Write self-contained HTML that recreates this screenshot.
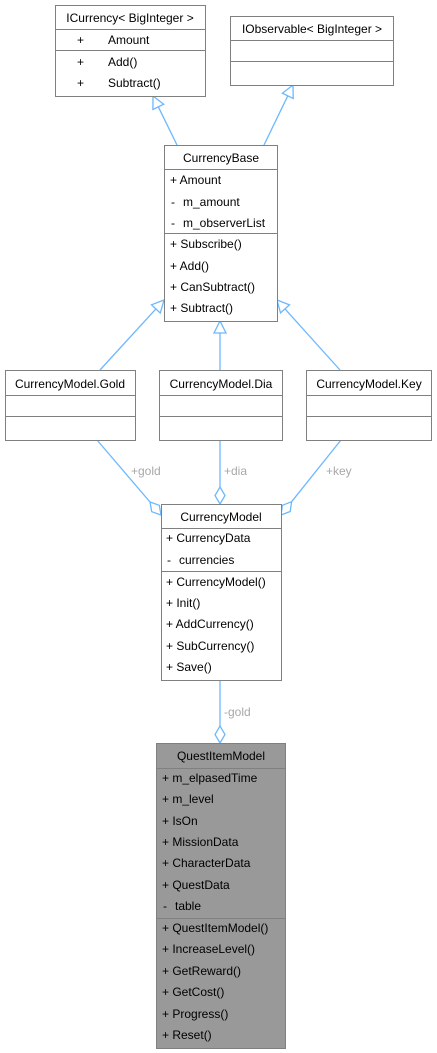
<!DOCTYPE html>
<html><head><meta charset="utf-8"><style>
html,body{margin:0;padding:0;background:#fff;}
svg{display:block;}
text{font-family:"Liberation Sans","DejaVu Sans",sans-serif;font-size:12px;fill:#000;}
.lbl{fill:#a8a8a8;}
</style></head><body>
<svg width="437" height="1053" viewBox="0 0 437 1053" xmlns="http://www.w3.org/2000/svg">
<g stroke="#6cb8ff" stroke-width="1.3" fill="none">
<line x1="177" y1="145" x2="158.3" y2="106.8"/>
<polygon points="153,96 163.7,104.2 152.9,109.4" fill="#fff"/>
<line x1="264" y1="145" x2="287.8" y2="95.8"/>
<polygon points="293,85 293.2,98.4 282.4,93.2" fill="#fff"/>
<line x1="100" y1="370" x2="155.9" y2="308.9"/>
<polygon points="164,300 160.3,313 151.5,304.8" fill="#fff"/>
<line x1="220" y1="370" x2="220" y2="333"/>
<polygon points="220,321 214,333 226,333" fill="#fff"/>
<line x1="340" y1="370" x2="285" y2="308.9"/>
<polygon points="277,300 289.5,304.9 280.5,312.9" fill="#fff"/>
<line x1="97" y1="440" x2="150" y2="502"/>
<polygon points="161,515 159.3,505.3 150,502 151.7,511.7" fill="#fff"/>
<line x1="220" y1="440" x2="220" y2="487"/>
<polygon points="220,504 225,495.5 220,487 215,495.5" fill="#fff"/>
<line x1="341" y1="440" x2="291.6" y2="501.7"/>
<polygon points="281,515 290.2,511.5 291.6,501.7 282.4,505.3" fill="#fff"/>
<line x1="220" y1="680" x2="220" y2="726"/>
<polygon points="220,743 225,734.5 220,726 215,734.5" fill="#fff"/>
</g>
<text class="lbl" x="131" y="475">+gold</text>
<text class="lbl" x="224" y="475">+dia</text>
<text class="lbl" x="326" y="475">+key</text>
<text class="lbl" x="224" y="716">-gold</text>

<g stroke="#808080" stroke-width="1" fill="#fff">
<rect x="55.5" y="5.5" width="150" height="91"/>
<line x1="55" y1="29.5" x2="206" y2="29.5"/><line x1="55" y1="50.5" x2="206" y2="50.5"/>
<rect x="230.5" y="16.5" width="163" height="69"/>
<line x1="230" y1="40.5" x2="394" y2="40.5"/><line x1="230" y1="61.5" x2="394" y2="61.5"/>
<rect x="164.5" y="145.5" width="113" height="176"/>
<line x1="164" y1="169.5" x2="278" y2="169.5"/><line x1="164" y1="233.5" x2="278" y2="233.5"/>
<rect x="5.5" y="370.5" width="130" height="70"/>
<line x1="5" y1="395.5" x2="136" y2="395.5"/><line x1="5" y1="416.5" x2="136" y2="416.5"/>
<rect x="159.5" y="370.5" width="123" height="70"/>
<line x1="159" y1="395.5" x2="283" y2="395.5"/><line x1="159" y1="416.5" x2="283" y2="416.5"/>
<rect x="306.5" y="370.5" width="125" height="70"/>
<line x1="306" y1="395.5" x2="432" y2="395.5"/><line x1="306" y1="416.5" x2="432" y2="416.5"/>
<rect x="161.5" y="504.5" width="120" height="176"/>
<line x1="161" y1="528.5" x2="282" y2="528.5"/><line x1="161" y1="571.5" x2="282" y2="571.5"/>
<rect x="156.5" y="743.5" width="129" height="305" fill="#999999"/>
<line x1="156" y1="768.5" x2="286" y2="768.5"/><line x1="156" y1="918.5" x2="286" y2="918.5"/>
</g>

<text x="130" y="22" text-anchor="middle">ICurrency&lt; BigInteger &gt;</text>
<text x="77" y="44">+</text><text x="108" y="44">Amount</text>
<text x="77" y="66">+</text><text x="108" y="66">Add()</text>
<text x="77" y="87">+</text><text x="108" y="87">Subtract()</text>

<text x="312" y="33" text-anchor="middle">IObservable&lt; BigInteger &gt;</text>

<text x="221" y="162" text-anchor="middle">CurrencyBase</text>
<text x="170" y="184">+ Amount</text>
<text x="171" y="206">-</text><text x="183" y="206">m_amount</text>
<text x="171" y="227">-</text><text x="183" y="227">m_observerList</text>
<text x="170" y="248">+ Subscribe()</text>
<text x="170" y="270">+ Add()</text>
<text x="170" y="291">+ CanSubtract()</text>
<text x="170" y="312">+ Subtract()</text>

<text x="70" y="388" text-anchor="middle">CurrencyModel.Gold</text>
<text x="221" y="388" text-anchor="middle">CurrencyModel.Dia</text>
<text x="369" y="388" text-anchor="middle">CurrencyModel.Key</text>

<text x="221" y="521" text-anchor="middle">CurrencyModel</text>
<text x="166" y="542">+ CurrencyData</text>
<text x="167" y="564">-</text><text x="179" y="564">currencies</text>
<text x="166" y="586">+ CurrencyModel()</text>
<text x="166" y="607">+ Init()</text>
<text x="166" y="628">+ AddCurrency()</text>
<text x="166" y="650">+ SubCurrency()</text>
<text x="166" y="671">+ Save()</text>

<text x="221" y="760" text-anchor="middle">QuestItemModel</text>
<text x="162" y="782">+ m_elpasedTime</text>
<text x="162" y="803">+ m_level</text>
<text x="162" y="825">+ IsOn</text>
<text x="162" y="846">+ MissionData</text>
<text x="162" y="867">+ CharacterData</text>
<text x="162" y="889">+ QuestData</text>
<text x="163" y="910">-</text><text x="175" y="910">table</text>
<text x="162" y="932">+ QuestItemModel()</text>
<text x="162" y="953">+ IncreaseLevel()</text>
<text x="162" y="975">+ GetReward()</text>
<text x="162" y="996">+ GetCost()</text>
<text x="162" y="1018">+ Progress()</text>
<text x="162" y="1039">+ Reset()</text>
</svg>
</body></html>
